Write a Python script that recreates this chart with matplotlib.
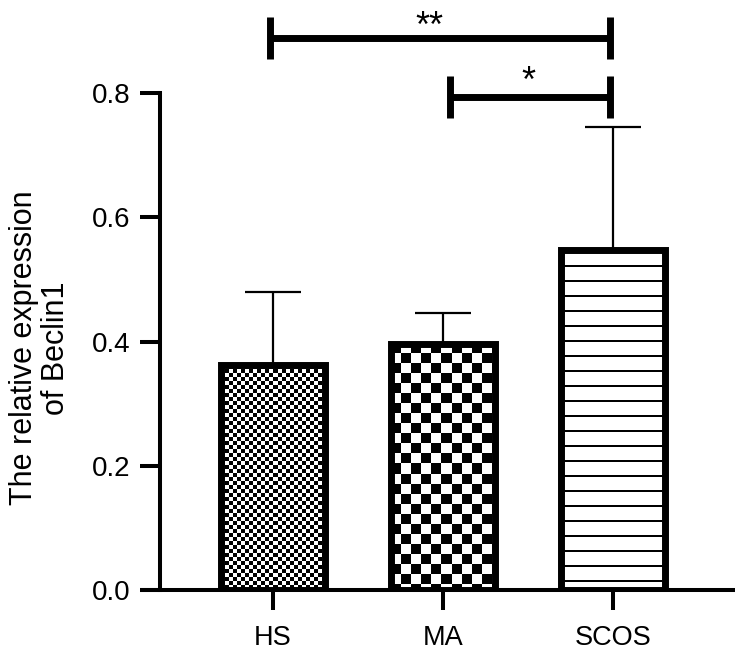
import numpy as np
import matplotlib
matplotlib.use("Agg")
import matplotlib.pyplot as plt

plt.rcParams['font.family'] = ['Liberation Sans', 'DejaVu Sans']

categories = ["HS", "MA", "SCOS"]
means = [0.362, 0.396, 0.547]
upper_err = [0.118, 0.050, 0.198]
patterns = ["fine_checker", "coarse_checker", "hstripes"]
yticks = [0.0, 0.2, 0.4, 0.6, 0.8]
# significance brackets: (x_start, x_end, y_line, label, label_x, label_y)
brackets = [(-0.018, 1.98, 0.889, "**", 0.92, 0.890),
            (1.04, 1.98, 0.794, "*", 1.50, 0.801)]

W, H, DPI = 738, 659, 100
fig = plt.figure(figsize=(W / DPI, H / DPI), dpi=DPI)
ax = fig.add_axes([160 / W, 69 / H, (735 - 160) / W, (566 - 69) / H])

x = np.arange(len(categories))
ax.set_xlim(-0.665, 2.718)
ax.set_ylim(0, 0.8)

bars = ax.bar(x, means, width=0.612, facecolor='none', edgecolor='black',
              linewidth=5.0, zorder=3)

ax.errorbar(x, means, yerr=[[0] * len(x), upper_err], fmt='none', ecolor='black',
            elinewidth=1.6, capsize=20, capthick=1.6, zorder=2)

# pattern fills
fig.canvas.draw()
for b, pat in zip(bars, patterns):
    ext = b.get_window_extent()
    wpx = int(round(ext.width)); hpx = int(round(ext.height))
    jj, ii = np.meshgrid(np.arange(wpx), np.arange(hpx))
    if pat == "fine_checker":
        c = 4
        img = ((ii // c + jj // c) % 2).astype(float)
    elif pat == "coarse_checker":
        c = 10
        img = ((ii // c + jj // c) % 2).astype(float)
    else:
        sp = 15
        img = 1.0 - ((ii % sp) < 2).astype(float)
    x0, y0 = b.get_x(), b.get_y()
    x1, y1 = x0 + b.get_width(), y0 + b.get_height()
    im = ax.imshow(img, cmap='gray', vmin=0, vmax=1, extent=[x0, x1, y0, y1],
                   origin='upper', interpolation='nearest', aspect='auto', zorder=2.5)
    im.set_clip_path(b)

ax.set_xlim(-0.665, 2.718)
ax.set_ylim(0, 0.8)

for s in ['top', 'right']:
    ax.spines[s].set_visible(False)
ax.spines['left'].set_linewidth(2.9)
ax.spines['bottom'].set_linewidth(2.9)
ax.spines['bottom'].set_bounds(-0.665 - 20 / 170, 2.718)
ax.spines['bottom'].set_capstyle('butt')

ax.set_xticks(x)
ax.set_xticklabels(categories, fontsize=19.5)
ax.set_yticks(yticks)
ax.set_yticklabels([f"{v:.1f}" for v in yticks], fontsize=20)
ax.tick_params(axis='both', length=14.4, width=2.9, color='black')
ax.tick_params(axis='x', pad=11)
ax.tick_params(axis='y', pad=7)

fig.text(40 / W, 1 - 348 / H, "The relative expression\nof Beclin1", rotation=90,
         ha='center', va='center', multialignment='center', fontsize=22,
         linespacing=1.1)

for xs, xe, yl, lab, lx, ly in brackets:
    ax.plot([xs, xe], [yl, yl], color='black', lw=5.0, solid_capstyle='butt', clip_on=False)
    for xx in (xs, xe):
        ax.plot([xx, xx], [yl - 0.034, yl + 0.034], color='black', lw=5.0,
                solid_capstyle='butt', clip_on=False)
    ax.text(lx, ly, lab, ha='center', va='baseline', fontsize=26, clip_on=False)

fig.savefig("out.png", dpi=DPI)
